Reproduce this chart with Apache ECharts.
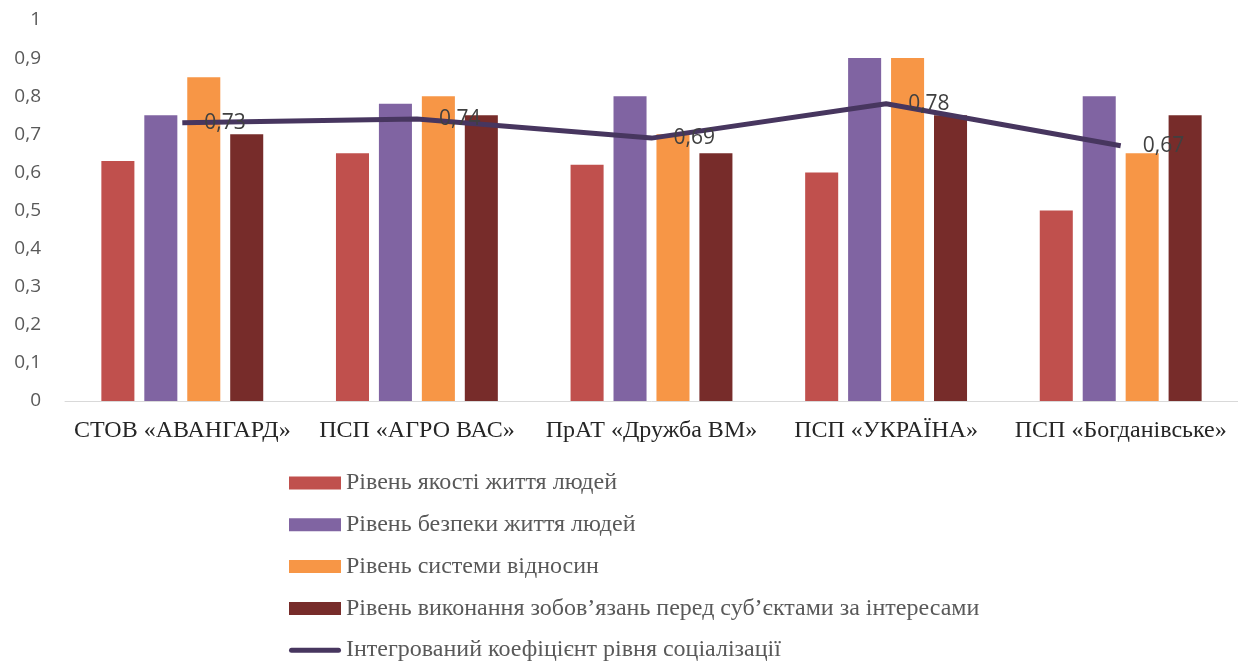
<!DOCTYPE html>
<html><head><meta charset="utf-8">
<script src="https://cdn.jsdelivr.net/npm/echarts@6/dist/echarts.min.js"></script>
<style>html,body{margin:0;padding:0;background:#fff}#c{width:1238px;height:662px}</style>
</head><body><div id="c"></div>
<script>
const categories = ['СТОВ «АВАНГАРД»', 'ПСП «АГРО ВАС»', 'ПрАТ «Дружба ВМ»', 'ПСП «УКРАЇНА»', 'ПСП «Богданівське»'];
const seriesNames = ['Рівень якості життя людей', 'Рівень безпеки життя людей', 'Рівень системи відносин', 'Рівень виконання зобов’язань перед суб’єктами за інтересами', 'Інтегрований коефіцієнт рівня соціалізації'];
const quality = [0.63, 0.65, 0.62, 0.60, 0.50];
const safety = [0.75, 0.78, 0.80, 0.90, 0.80];
const relations = [0.85, 0.80, 0.70, 0.90, 0.65];
const obligations = [0.70, 0.75, 0.65, 0.75, 0.75];
const integrated = [0.73, 0.74, 0.69, 0.78, 0.67];
const yTicks = [0, 0.1, 0.2, 0.3, 0.4, 0.5, 0.6, 0.7, 0.8, 0.9, 1];

const colors = ['#C0504D', '#8064A2', '#F79646', '#772C2A', '#47365F'];
const fmt = v => String(Math.round(v * 100) / 100).replace('.', ',');

const chart = echarts.init(document.getElementById('c'));
const barSeries = [quality, safety, relations, obligations].map((d, i) => ({
  name: seriesNames[i], type: 'bar', data: d,
  barGap: '30%', barCategoryGap: '31%',
  itemStyle: { color: colors[i] }
}));
chart.setOption({
  animation: false,
  grid: { left: 65, right: 0, top: 20, bottom: 261 },
  xAxis: {
    type: 'category', data: categories,
    axisLine: { lineStyle: { color: '#D9D9D9', width: 1 } },
    axisTick: { show: false },
    axisLabel: { interval: 0, fontFamily: 'Liberation Serif', fontSize: 24, color: '#262626', margin: 18 }
  },
  yAxis: {
    type: 'value', min: yTicks[0], max: yTicks[yTicks.length - 1], interval: 0.1,
    splitLine: { show: false },
    axisLine: { show: false }, axisTick: { show: false },
    axisLabel: { fontFamily: 'Open Sans', fontSize: 19, color: '#595959', margin: 24,
      formatter: v => fmt(v) }
  },
  legend: {
    orient: 'vertical', left: 289, top: 471, height: 300, padding: 0,
    itemWidth: 52, itemHeight: 13, itemGap: 17.8,
    textStyle: { fontFamily: 'Liberation Serif', fontSize: 24, color: '#595959' },
    data: [
      { name: seriesNames[0], icon: 'rect' },
      { name: seriesNames[1], icon: 'rect' },
      { name: seriesNames[2], icon: 'rect' },
      { name: seriesNames[3], icon: 'rect' },
      { name: seriesNames[4], icon: 'path://M2.5,0 L49.5,0 A2.5,2.5 0 0 1 49.5,5 L2.5,5 A2.5,2.5 0 0 1 2.5,0 Z' }
    ]
  },
  series: barSeries.concat([{
    name: seriesNames[4], type: 'line', data: integrated,
    symbol: 'circle', symbolSize: 0.1, showSymbol: true,
    lineStyle: { color: colors[4], width: 5 },
    itemStyle: { color: colors[4] },
    label: { show: true, position: 'right', distance: 22, offset: [0, 3], fontFamily: 'Open Sans', fontSize: 21, color: '#404040',
      formatter: p => fmt(p.value) },
    labelLayout: { hideOverlap: false },
    z: 5
  }])
});
</script></body></html>
